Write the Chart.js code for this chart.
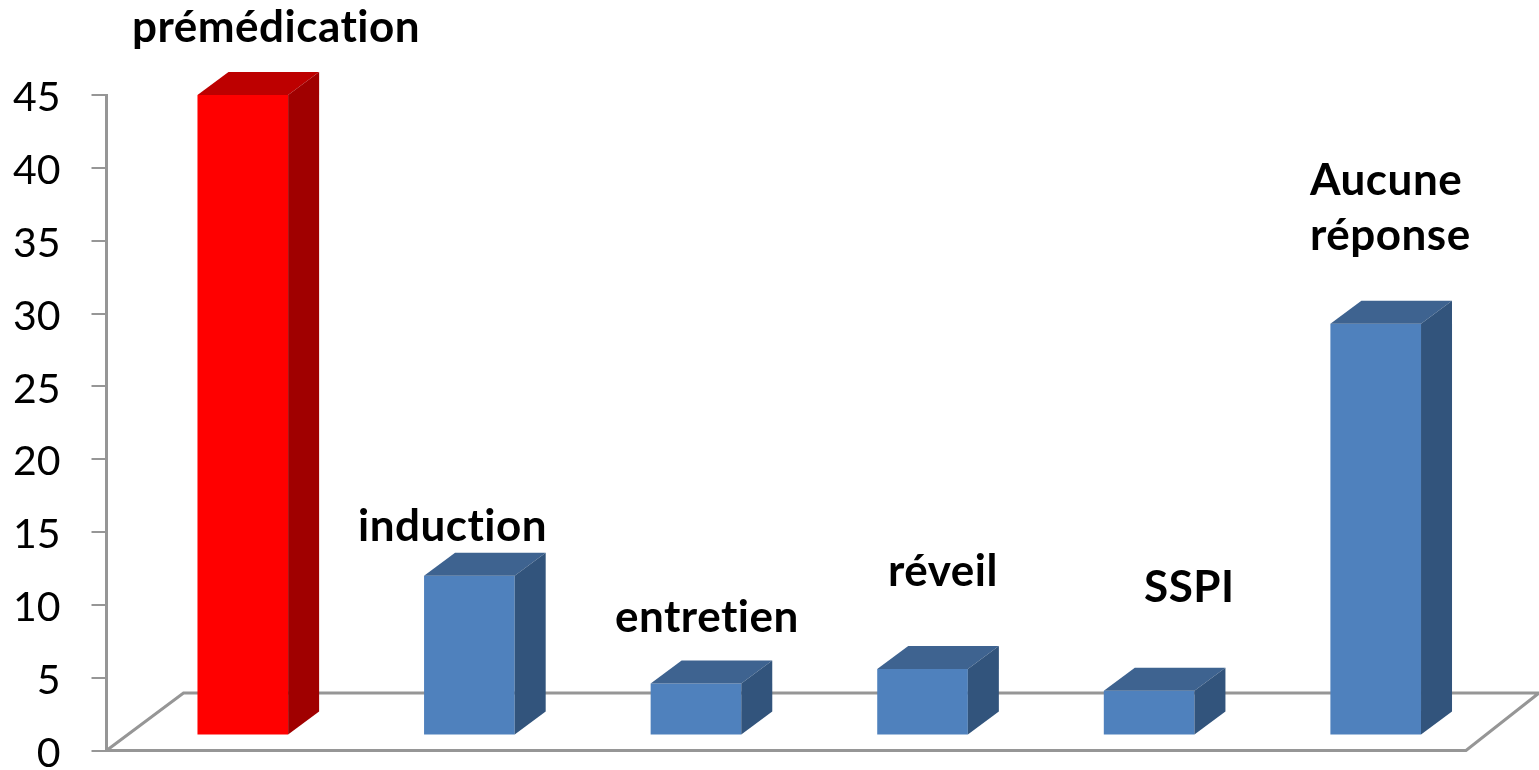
<!DOCTYPE html>
<html>
<head>
<meta charset="utf-8">
<script src="https://cdn.jsdelivr.net/npm/chart.js@4"></script>
<style>
    body { margin: 0; background: #fff; }
    canvas { display: block; }
</style>
</head>
<body>
<canvas id="chart" width="1539" height="770"></canvas>
<script>
const categories = ['prémédication', 'induction', 'entretien', 'réveil', 'SSPI', ['Aucune', 'réponse']];
const values = [43.9, 10.9, 3.5, 4.5, 3, 28.2];
const yTicks = [0, 5, 10, 15, 20, 25, 30, 35, 40, 45];
// the 3D floor lifts the bars off the zero line
const floorLift = 1.1;

const frontColors = ['#ff0000', '#4f81bd', '#4f81bd', '#4f81bd', '#4f81bd', '#4f81bd'];
const topColors = ['#bd0000', '#3e6390', '#3e6390', '#3e6390', '#3e6390', '#3e6390'];
const sideColors = ['#a00000', '#32547c', '#32547c', '#32547c', '#32547c', '#32547c'];

// hand placed labels from the original slide: left x, baseline y
const labelSpots = [[132, 42], [358, 541], [615, 632], [888, 586], [1144, 602], [1310, 195]];

const depthX = 31;
const depthY = 23;
const barShift = 23;
const axisGrey = '#969696';

function face(ctx, color, pts) {
    ctx.fillStyle = color;
    ctx.beginPath();
    pts.forEach((p, i) => i ? ctx.lineTo(p[0], p[1]) : ctx.moveTo(p[0], p[1]));
    ctx.closePath();
    ctx.fill();
}

const boxBars = {
    id: 'boxBars',
    beforeDatasetsDraw(chart) {
        const { ctx, scales } = chart;
        const y0 = scales.y.getPixelForValue(0);
        const left = chart.chartArea.left;
        const right = chart.chartArea.right;
        const backY = y0 - 57.5;
        ctx.save();
        ctx.strokeStyle = axisGrey;
        ctx.lineWidth = 3;
        ctx.beginPath();
        ctx.moveTo(left, y0);
        ctx.lineTo(right, y0);
        ctx.lineTo(right + 73, backY);
        ctx.lineTo(left + 77, backY);
        ctx.lineTo(left, y0);
        ctx.stroke();
        ctx.restore();
    },
    beforeDatasetDraw(chart) {
        chart.ctx.save();
        chart.ctx.translate(barShift, 0);
    },
    afterDatasetDraw(chart) {
        const ctx = chart.ctx;
        chart.getDatasetMeta(0).data.forEach((bar, i) => {
            const r = bar.x + bar.width / 2;
            const l = bar.x - bar.width / 2;
            face(ctx, topColors[i], [[l, bar.y], [r, bar.y], [r + depthX, bar.y - depthY], [l + depthX, bar.y - depthY]]);
            face(ctx, sideColors[i], [[r, bar.y], [r + depthX, bar.y - depthY], [r + depthX, bar.base - depthY], [r, bar.base]]);
        });
        ctx.restore();
    },
    afterDraw(chart) {
        const ctx = chart.ctx;
        ctx.save();
        ctx.fillStyle = '#000';
        ctx.font = 'bold 44px Lato';
        ctx.letterSpacing = '0.5px';
        ctx.textAlign = 'left';
        ctx.textBaseline = 'alphabetic';
        categories.forEach((cat, i) => {
            [].concat(cat).forEach((line, j) => {
                ctx.fillText(line, labelSpots[i][0], labelSpots[i][1] + j * 55);
            });
        });
        ctx.restore();
    }
};

new Chart(document.getElementById('chart').getContext('2d'), {
    type: 'bar',
    data: {
        labels: categories,
        datasets: [{
            data: values.map(v => [floorLift, floorLift + v]),
            backgroundColor: frontColors,
            borderWidth: 0,
            barPercentage: 0.4,
            categoryPercentage: 1,
            clip: false
        }]
    },
    options: {
        responsive: false,
        animation: false,
        layout: { padding: { top: 95, bottom: 19.5, right: 73 } },
        plugins: { legend: { display: false }, tooltip: { enabled: false } },
        scales: {
            x: { display: false },
            y: {
                min: 0,
                max: 45,
                afterFit(scale) {
                    scale.width = 106.5;
                    // tick padding would otherwise eat into the plot height
                    scale.paddingTop = 0;
                    scale.paddingBottom = 0;
                },
                afterBuildTicks(scale) { scale.ticks = yTicks.map(v => ({ value: v })); },
                grid: { drawOnChartArea: false, tickLength: 15, color: axisGrey, lineWidth: 2 },
                border: { color: axisGrey, width: 3 },
                ticks: {
                    padding: 31,
                    labelOffset: 3,
                    color: '#000',
                    font: { family: 'Lato', size: 41 }
                }
            }
        }
    },
    plugins: [boxBars]
});
</script>
</body>
</html>
